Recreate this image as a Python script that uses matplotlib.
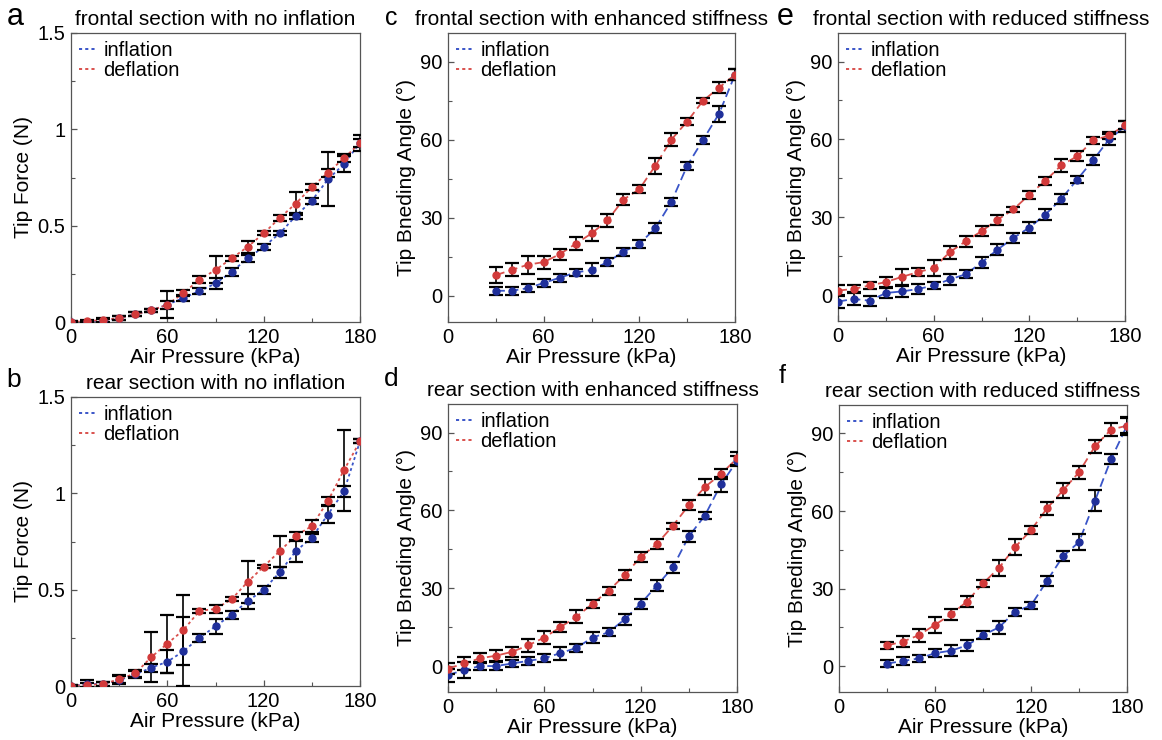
import matplotlib
matplotlib.use("Agg")
import matplotlib.pyplot as plt
from matplotlib.lines import Line2D
from matplotlib.ticker import MultipleLocator, FuncFormatter

plt.rcParams['font.family'] = ['Liberation Sans', 'DejaVu Sans']

# ---------------- data ----------------
x_full = [0, 10, 20, 30, 40, 50, 60, 70, 80, 90, 100, 110, 120, 130, 140, 150, 160, 170, 180]
x_part = [30, 40, 50, 60, 70, 80, 90, 100, 110, 120, 130, 140, 150, 160, 170, 180]

# a: frontal section with no inflation (Tip Force, N)
a_inf = [0, 0, 0.005, 0.02, 0.04, 0.06, 0.09, 0.125, 0.16, 0.20, 0.26, 0.33, 0.39, 0.46, 0.55, 0.63, 0.74, 0.82, 0.93]
a_inf_err = [0.005, 0.005, 0.01, 0.01, 0.01, 0.01, 0.07, 0.015, 0.015, 0.03, 0.02, 0.02, 0.015, 0.01, 0.015, 0.015, 0.14, 0.04, 0.04]
a_def = [0, 0.005, 0.01, 0.02, 0.04, 0.06, 0.09, 0.15, 0.22, 0.27, 0.33, 0.39, 0.46, 0.54, 0.615, 0.70, 0.775, 0.85, 0.93]
a_def_err = [0.005, 0.005, 0.01, 0.01, 0.01, 0.01, 0.02, 0.015, 0.02, 0.07, 0.015, 0.03, 0.01, 0.015, 0.06, 0.015, 0.02, 0.02, 0.02]

# b: rear section with no inflation (Tip Force, N)
b_inf = [0, 0.01, 0.01, 0.03, 0.06, 0.095, 0.126, 0.18, 0.25, 0.31, 0.37, 0.44, 0.50, 0.59, 0.70, 0.77, 0.89, 1.01, 1.27]
b_inf_err = [0.005, 0.02, 0.01, 0.02, 0.02, 0.02, 0.06, 0.18, 0.02, 0.04, 0.02, 0.04, 0.02, 0.03, 0.055, 0.02, 0.045, 0.03, 0.01]
b_def = [0, 0.005, 0.01, 0.035, 0.065, 0.15, 0.22, 0.29, 0.39, 0.40, 0.45, 0.54, 0.62, 0.70, 0.78, 0.83, 0.96, 1.12, 1.27]
b_def_err = [0.005, 0.01, 0.01, 0.02, 0.02, 0.13, 0.15, 0.18, 0.01, 0.02, 0.01, 0.11, 0.01, 0.08, 0.02, 0.03, 0.02, 0.21, 0.01]

# c: frontal section with enhanced stiffness (angle, deg)
c_inf = [2, 2, 3, 5, 7, 9, 10, 13, 17, 20, 26, 36, 50, 60, 70, 85]
c_inf_err = [1.5, 1.5, 1.5, 1.5, 1.5, 1.5, 2.5, 1.5, 1.5, 1.5, 2, 1.5, 1.5, 1.5, 3, 2]
c_def = [8, 10, 12, 13, 16, 20, 24, 29, 37, 41, 50, 60, 67, 75, 80, 85]
c_def_err = [3, 2.5, 3.5, 2.5, 2, 2.5, 3, 2.5, 2, 1.5, 3, 2.5, 1.5, 1, 2, 2]

# d: rear section with enhanced stiffness
d_inf = [-3.5, -1.5, 0, 0, 1, 2, 3, 5, 7, 11, 13, 18, 24, 31, 38, 50, 58, 70, 79]
d_inf_err = [2.5, 3, 1.5, 1.5, 1.5, 1.5, 1.5, 2.5, 1.5, 2, 1.5, 2, 2, 2, 2, 2, 1.5, 3, 2]
d_def = [-1, 1, 3, 4, 5.5, 8, 11, 15, 19, 24, 29, 35, 42, 47, 54, 62, 69, 74, 80]
d_def_err = [2, 2.5, 2, 2, 2, 2.5, 2.5, 2, 2.5, 1.5, 1.5, 2, 2, 2, 1, 2, 3, 2, 2.5]

# e: frontal section with reduced stiffness
e_inf = [-2.5, -1.5, -2.2, 0.8, 1.4, 2.3, 3.7, 6, 8, 12.5, 17.5, 22, 26, 31, 37, 44.5, 52, 60, 65]
e_inf_err = [2.5, 2.5, 2, 2, 2, 2, 1.5, 2, 1.5, 2, 2, 2, 2, 2, 2, 1.5, 2, 2, 2]
e_def = [1.7, 2.4, 3.7, 5, 7, 8.8, 10.4, 16.5, 20.7, 24.6, 29, 33, 38.7, 44, 50, 53.5, 59.6, 61.5, 65.4]
e_def_err = [2, 1.5, 1.5, 2, 3, 1.5, 3, 2.5, 2, 2, 2, 1, 1.5, 1.5, 2.5, 2, 1.5, 1.5, 1.5]

# f: rear section with reduced stiffness
f_inf = [1, 2, 3, 5, 6, 8, 12, 15, 21, 23.5, 33, 42.5, 48, 64, 80, 93]
f_inf_err = [1.5, 1.5, 1.5, 1.5, 2, 2, 1.5, 2.5, 1.5, 1.5, 2, 2, 3, 4, 2, 3.5]
f_def = [8, 9.5, 12, 16, 20, 25, 32, 38, 46, 52.6, 61, 68, 75, 85, 91.5, 93]
f_def_err = [1.5, 2, 2.5, 3, 2, 2, 1.5, 3, 3, 1.5, 2.5, 3, 2.5, 2.5, 2.5, 3]

letters = ['a', 'b', 'c', 'd', 'e', 'f']
titles = ['frontal section with no inflation', 'rear section with no inflation',
          'frontal section with enhanced stiffness', 'rear section with enhanced stiffness',
          'frontal section with reduced stiffness', 'rear section with reduced stiffness']
ylabels = ['Tip Force (N)', 'Tip Force (N)'] + ['Tip Bneding Angle (°)'] * 4
xlabel = 'Air Pressure (kPa)'
legend_labels = ['inflation', 'deflation']

# ---------------- layout ----------------
W, H = 1162, 740
fig = plt.figure(figsize=(W / 100, H / 100), dpi=100)

boxes = {  # left, right, top, bottom in pixels
    'a': (71, 360, 33, 322), 'b': (71, 360, 397, 686),
    'c': (448, 735, 33, 322), 'd': (448, 737, 404, 692),
    'e': (838, 1125, 33, 321), 'f': (839, 1127, 405, 692),
}
letter_pos = {'a': (15, 17), 'b': (14, 380), 'c': (391, 18), 'd': (391, 379), 'e': (785, 17), 'f': (782, 376)}
letter_size = {'a': 22, 'b': 19, 'c': 18, 'd': 19, 'e': 22, 'f': 18}

panels = {
    'a': (x_full, a_inf, a_inf_err, a_def, a_def_err),
    'b': (x_full, b_inf, b_inf_err, b_def, b_def_err),
    'c': (x_part, c_inf, c_inf_err, c_def, c_def_err),
    'd': (x_full, d_inf, d_inf_err, d_def, d_def_err),
    'e': (x_full, e_inf, e_inf_err, e_def, e_def_err),
    'f': (x_part, f_inf, f_inf_err, f_def, f_def_err),
}

blue_line = '#3a55c8'
red_line = '#d9514d'
blue_mk = '#1f2f9a'
red_mk = '#d23a3a'
spine_col = '#555555'


def force_fmt(v, pos):
    if abs(v) < 1e-9:
        return '0'
    if abs(v - round(v)) < 1e-9:
        return '%d' % round(v)
    return '%g' % v


for i, key in enumerate(letters):
    l, r, t, b = boxes[key]
    ax = fig.add_axes([l / W, 1 - b / H, (r - l) / W, (b - t) / H])
    xs, yi, ei, yd, ed = panels[key]
    ls = (0, (1.6, 1.6)) if key in ('a', 'b') else (0, (5, 2.5))
    lw = 1.3
    for y, e, lc, mc in ((yi, ei, blue_line, blue_mk), (yd, ed, red_line, red_mk)):
        ax.plot(xs, y, linestyle=ls, color=lc, lw=lw, zorder=2)
        ax.errorbar(xs, y, yerr=e, fmt='none', ecolor='black', elinewidth=1.2,
                    capsize=4.7, capthick=1.6, zorder=3)
        ax.plot(xs, y, linestyle='none', marker='o', ms=5, color=mc,
                markeredgecolor=mc, zorder=4)

    ax.set_xlim(0, 180)
    ax.xaxis.set_major_locator(MultipleLocator(60))
    ax.xaxis.set_minor_locator(MultipleLocator(30))
    if key in ('a', 'b'):
        ax.set_ylim(0, 1.5)
        ax.yaxis.set_major_locator(MultipleLocator(0.5))
        ax.yaxis.set_minor_locator(MultipleLocator(0.25))
        ax.yaxis.set_major_formatter(FuncFormatter(force_fmt))
    else:
        ax.set_ylim(-10, 101)
        ax.set_yticks([0, 30, 60, 90])
        ax.set_yticks([15, 45, 75], minor=True)

    ax.tick_params(which='both', direction='in', top=False, right=False,
                   labelsize=14.5, color=spine_col, pad=4)
    ax.tick_params(which='major', length=4, width=0.9)
    ax.tick_params(which='minor', length=3, width=0.8)
    for s in ax.spines.values():
        s.set_color(spine_col)
        s.set_linewidth(0.9)

    ax.set_xlabel(xlabel, fontsize=15, labelpad=1)
    ax.set_ylabel(ylabels[i], fontsize=15, labelpad=3)
    ax.set_title(titles[i], fontsize=15, pad=6)

    handles = [Line2D([], [], color=blue_line, linestyle=(0, (1.6, 1.6)), lw=1.4),
               Line2D([], [], color=red_line, linestyle=(0, (1.6, 1.6)), lw=1.4)]
    ax.legend(handles, legend_labels, loc='upper left', frameon=False, fontsize=14.5,
              handlelength=0.8, handletextpad=0.4, labelspacing=0.05,
              borderaxespad=0.2, borderpad=0.2)

    lx, ly = letter_pos[key]
    fig.text(lx / W, 1 - ly / H, key, fontsize=letter_size[key], ha='center', va='center')

fig.savefig('out.png', dpi=100)
